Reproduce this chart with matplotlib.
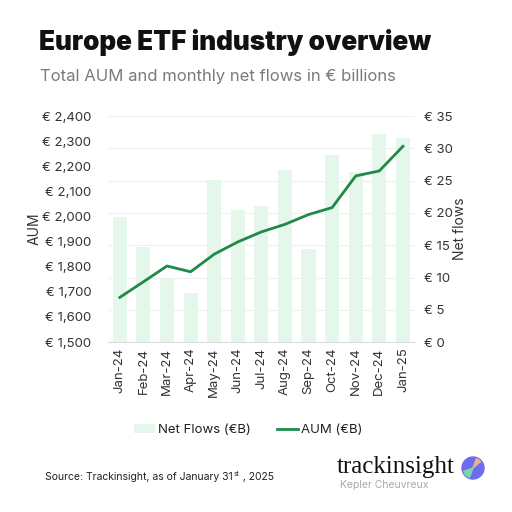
import matplotlib
matplotlib.use("Agg")
import matplotlib.pyplot as plt
from matplotlib.patches import Patch, Circle, Wedge
from matplotlib.lines import Line2D
from matplotlib.ticker import FuncFormatter

months = ["Jan-24", "Feb-24", "Mar-24", "Apr-24", "May-24", "Jun-24", "Jul-24",
          "Aug-24", "Sep-24", "Oct-24", "Nov-24", "Dec-24", "Jan-25"]
net_flows = [19.4, 14.7, 9.7, 7.6, 25.1, 20.4, 21.1, 26.7, 14.4, 29.0, 26.4, 32.2, 31.6]
aum = [1678, 1740, 1803, 1780, 1850, 1899, 1939, 1969, 2008, 2036, 2162, 2182, 2280]

plt.rcParams['font.family'] = ['Inter', 'DejaVu Sans']

BAR = "#e5f6ea"
LINE = "#1f8a47"
TXT = "#333333"

fig = plt.figure(figsize=(5.12, 5.12), dpi=100)
ax = fig.add_axes([0.211, 0.332, 0.599, 0.441])
ax2 = ax.twinx()

x = list(range(len(months)))
ax2.bar(x, net_flows, width=0.6, color=BAR, zorder=1)
ax2.set_ylim(0, 35)
ax2.set_yticks(range(0, 36, 5))
ax2.yaxis.set_major_formatter(FuncFormatter(lambda v, p: f"€ {v:,.0f}"))

ax.set_zorder(ax2.get_zorder() + 1)
ax.patch.set_visible(False)
ax.plot(x, aum, color=LINE, lw=2.0, zorder=3)
ax.set_ylim(1500, 2400)
ax.set_yticks(range(1500, 2401, 100))
ax.yaxis.set_major_formatter(FuncFormatter(lambda v, p: f"€ {v:,.0f}"))
ax.set_xlim(-0.5, len(months) - 0.5)
ax.set_xticks(x)
ax.set_xticklabels(months, rotation=90)

for a in (ax, ax2):
    for s in a.spines.values():
        s.set_visible(False)
    a.tick_params(length=0, labelsize=9.5, colors=TXT)
ax.spines['bottom'].set_visible(True)
ax.spines['bottom'].set_color("#dddddd")
ax.tick_params(axis='y', pad=12)
ax2.tick_params(axis='y', pad=7)
ax.tick_params(axis='x', pad=4)
ax2.yaxis.grid(True, color="#efefef", lw=0.8, zorder=0)
ax2.set_axisbelow(True)

ax.set_ylabel("AUM", fontsize=10, color=TXT, labelpad=0)
ax2.set_ylabel("Net flows", fontsize=10, color=TXT, labelpad=0)

fig.text(39 / 512, 1 - 42 / 512, "Europe ETF industry overview", fontsize=18.8,
         fontweight='black', color="#111111", va='center', ha='left')
fig.text(40 / 512, 1 - 76 / 512, "Total AUM and monthly net flows in € billions",
         fontsize=12, color="#7a7a7a", va='center', ha='left')

handles = [Patch(facecolor=BAR, edgecolor='none', label="Net Flows (€B)"),
           Line2D([0], [0], color=LINE, lw=2, label="AUM (€B)")]
fig.legend(handles=handles, loc='center', bbox_to_anchor=(248 / 512, 1 - 430 / 512),
           ncol=2, frameon=False, fontsize=9.5, handlelength=1.6, handletextpad=0.2,
           columnspacing=2.0, labelcolor="#222222")

t1 = fig.text(45 / 512, 1 - 480 / 512, "Source: Trackinsight, as of January 31",
              fontsize=7.5, color="#222222", va='baseline', ha='left')
ax.annotate("st", xy=(1, 0), xycoords=t1, xytext=(0.3, 3.5), textcoords='offset points',
            fontsize=5, color="#222222", va='bottom', ha='left',
            annotation_clip=False)
ax.annotate(" , 2025", xy=(1, 0), xycoords=t1, xytext=(5, 0), textcoords='offset points',
            fontsize=7.5, color="#222222", va='bottom', ha='left', annotation_clip=False)

fig.text(337 / 512, 1 - 467 / 512, "trackinsight", fontsize=18,
         family=['Liberation Serif'], color="#111111", va='center', ha='left')
fig.text(340 / 512, 1 - 485 / 512, "Kepler Cheuvreux", fontsize=7.5,
         color="#aaaaaa", va='center', ha='left')
cx, cy, r = 473 / 512, 1 - 468 / 512, 11 / 512
fig.patches.append(Circle((cx, cy), r, transform=fig.transFigure, color="#6d6cf0"))
fig.patches.append(Wedge((cx, cy), r * 0.9, 200, 250, transform=fig.transFigure, color="#7ad6a6"))
fig.patches.append(Wedge((cx, cy), r * 0.9, 40, 70, transform=fig.transFigure, color="#e3b887"))

fig.savefig("out.png", dpi=100, facecolor="white")
